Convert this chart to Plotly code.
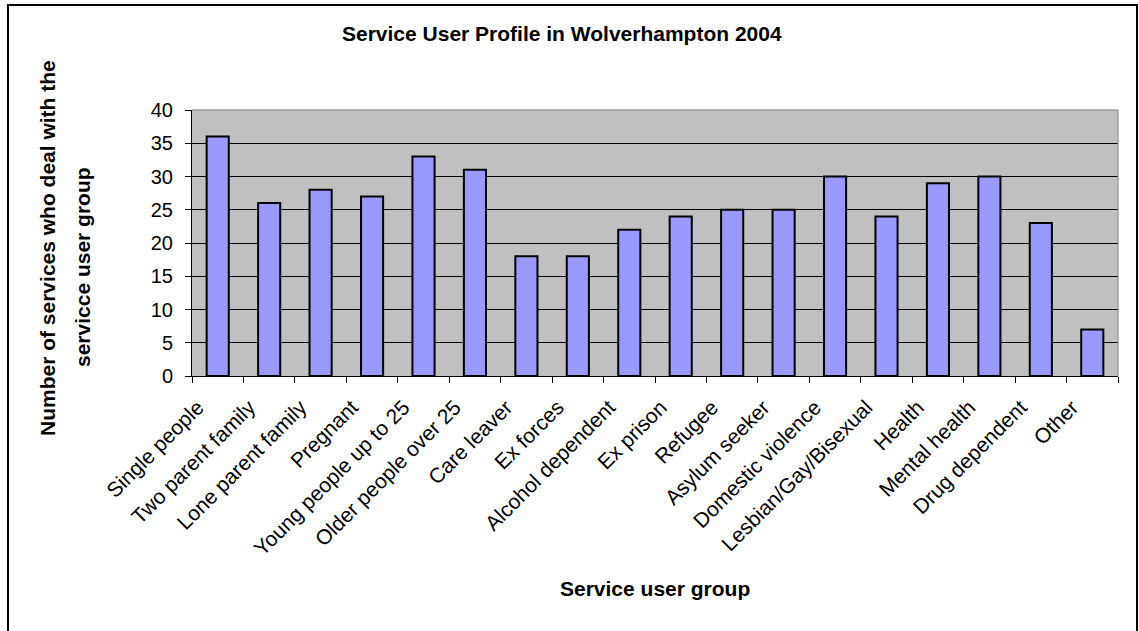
import plotly.graph_objects as go

categories = ["Single people", "Two parent family", "Lone parent family", "Pregnant",
              "Young people up to 25", "Older people over 25", "Care leaver", "Ex forces",
              "Alcohol dependent", "Ex prison", "Refugee", "Asylum seeker",
              "Domestic violence", "Lesbian/Gay/Bisexual", "Health", "Mental health",
              "Drug dependent", "Other"]
values = [36, 26, 28, 27, 33, 31, 18, 18, 22, 24, 25, 25, 30, 24, 29, 30, 23, 7]
y_ticks = [0, 5, 10, 15, 20, 25, 30, 35, 40]

title_text = "Service User Profile in Wolverhampton 2004"
x_title = "Service user group"
y_title_1 = "Number of services who deal with the"
y_title_2 = "servicce user group"

W, H = 1139, 631
L, R, T, B = 192, 21, 110, 255
PW, PH = W - L - R, H - T - B
N = len(categories)

def px_x(p):
    return (p - L) / PW

def px_y(p):
    return (H - B - p) / PH

FONT = "Liberation Sans, Arial, sans-serif"

# horizontal shift (in category units) of the tick labels, to mimic Excel's placement
label_shift = 20 / (PW / N)
idx = list(range(N))

fig = go.Figure()
fig.add_trace(go.Bar(
    x=categories, y=values,
    marker=dict(color="#9999FF", line=dict(color="#000000", width=2)),
    width=0.43, hoverinfo="x+y",
))
# invisible helper trace that carries the tick-label axis
fig.add_trace(go.Scatter(
    x=idx, y=values, xaxis="x2", mode="markers",
    marker=dict(opacity=0), hoverinfo="skip", showlegend=False,
))

fig.update_layout(
    width=W, height=H,
    margin=dict(l=L, r=R, t=T, b=B, autoexpand=False),
    paper_bgcolor="#FFFFFF",
    plot_bgcolor="#C0C0C0",
    showlegend=False,
    font=dict(family=FONT, color="#000000"),
    xaxis=dict(
        type="category", tickson="boundaries", showticklabels=False,
        ticks="outside", ticklen=6, tickcolor="#000000", tickwidth=1,
        showline=True, linecolor="#000000", linewidth=1,
        showgrid=False, range=[-0.5, N - 0.5],
    ),
    xaxis2=dict(
        overlaying="x", anchor="y", side="bottom", type="linear",
        range=[-0.5 + label_shift, N - 0.5 + label_shift],
        tickvals=idx, ticktext=categories, tickangle=-45,
        ticks="", showline=False, showgrid=False, zeroline=False,
        tickfont=dict(size=21, family=FONT, color="#000000"),
        ticklabelstandoff=14,
    ),
    yaxis=dict(
        range=[0, 40], tickvals=y_ticks, ticktext=[str(v) for v in y_ticks],
        ticks="outside", ticklen=6, tickcolor="#000000", tickwidth=1,
        showline=True, linecolor="#000000", linewidth=1,
        showgrid=True, gridcolor="#000000", gridwidth=1, zeroline=False,
        tickfont=dict(size=20, family=FONT, color="#000000"),
        ticklabelstandoff=8,
    ),
    shapes=[
        dict(type="line", xref="paper", yref="paper", x0=0, x1=1, y0=1, y1=1,
             line=dict(color="#808080", width=1)),
        dict(type="line", xref="paper", yref="paper", x0=1, x1=1, y0=0, y1=1,
             line=dict(color="#808080", width=1)),
        dict(type="rect", xref="paper", yref="paper",
             x0=px_x(8), x1=px_x(1137), y0=px_y(645), y1=px_y(5),
             line=dict(color="#000000", width=2), fillcolor="rgba(0,0,0,0)"),
    ],
    annotations=[
        dict(text="<b>" + title_text + "</b>", xref="paper", yref="paper",
             x=px_x(562), y=px_y(33), xanchor="center", yanchor="middle",
             showarrow=False, font=dict(size=21, family=FONT)),
        dict(text="<b>" + x_title + "</b>", xref="paper", yref="paper",
             x=px_x(655), y=px_y(588), xanchor="center", yanchor="middle",
             showarrow=False, font=dict(size=21, family=FONT)),
        dict(text="<b>" + y_title_1 + "</b>", xref="paper", yref="paper",
             x=px_x(47), y=px_y(248), xanchor="center", yanchor="middle",
             textangle=-90, showarrow=False, font=dict(size=21, family=FONT)),
        dict(text="<b>" + y_title_2 + "</b>", xref="paper", yref="paper",
             x=px_x(82), y=px_y(267), xanchor="center", yanchor="middle",
             textangle=-90, showarrow=False, font=dict(size=21, family=FONT)),
    ],
)

fig.write_html("out.html")
